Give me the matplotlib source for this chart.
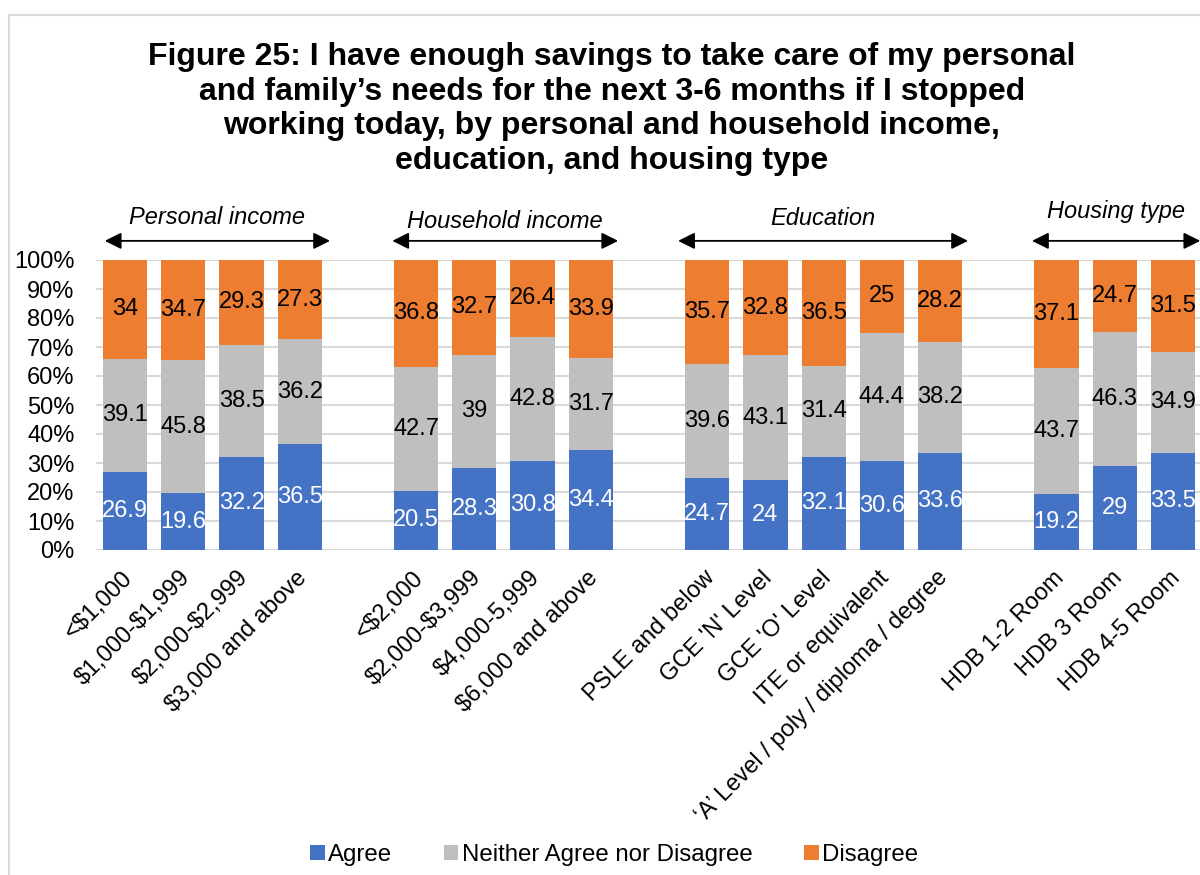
import numpy as np
import matplotlib
matplotlib.use("Agg")
import matplotlib.pyplot as plt
from matplotlib.patches import Rectangle
from matplotlib.transforms import ScaledTranslation

plt.rcParams['font.family'] = ['Liberation Sans', 'DejaVu Sans']

# Survey responses (%) by group
groups = ["Personal income", "Household income", "Education", "Housing type"]

personal_cats = ["<\\$1,000", "\\$1,000-\\$1,999", "\\$2,000-\\$2,999", "\\$3,000 and above"]
personal_agree = [26.9, 19.6, 32.2, 36.5]
personal_neither = [39.1, 45.8, 38.5, 36.2]
personal_disagree = [34, 34.7, 29.3, 27.3]

household_cats = ["<\\$2,000", "\\$2,000-\\$3,999", "\\$4,000-5,999", "\\$6,000 and above"]
household_agree = [20.5, 28.3, 30.8, 34.4]
household_neither = [42.7, 39, 42.8, 31.7]
household_disagree = [36.8, 32.7, 26.4, 33.9]

education_cats = ["PSLE and below", "GCE 'N' Level", "GCE 'O' Level",
                  "ITE or equivalent", "\u2018A\u2019 Level / poly / diploma / degree"]
education_agree = [24.7, 24, 32.1, 30.6, 33.6]
education_neither = [39.6, 43.1, 31.4, 44.4, 38.2]
education_disagree = [35.7, 32.8, 36.5, 25, 28.2]

housing_cats = ["HDB 1-2 Room", "HDB 3 Room", "HDB 4-5 Room"]
housing_agree = [19.2, 29, 33.5]
housing_neither = [43.7, 46.3, 34.9]
housing_disagree = [37.1, 24.7, 31.5]

series_names = ["Agree", "Neither Agree nor Disagree", "Disagree"]
colors = ["#4472C4", "#BFBFBF", "#ED7D31"]
text_colors = ["white", "black", "black"]

group_cats = [personal_cats, household_cats, education_cats, housing_cats]
group_vals = [
    [personal_agree, personal_neither, personal_disagree],
    [household_agree, household_neither, household_disagree],
    [education_agree, education_neither, education_disagree],
    [housing_agree, housing_neither, housing_disagree],
]

# lay groups out with one empty slot between them
positions, labels = [], []
values = [[], [], []]
pos = 0
for cats, vals in zip(group_cats, group_vals):
    for i, c in enumerate(cats):
        positions.append(pos)
        labels.append(c)
        for s in range(3):
            values[s].append(vals[s][i])
        pos += 1
    pos += 1
positions = np.array(positions)
values = [np.array(v) for v in values]

W, H = 1200, 875
fig = plt.figure(figsize=(W / 100, H / 100), dpi=100)
ax = fig.add_axes([96 / W, 1 - 550 / H, (1202 - 96) / W, 290 / H])

bottom = np.zeros(len(positions))
for s in range(3):
    ax.bar(positions, values[s], bottom=bottom, width=0.76, color=colors[s],
           label=series_names[s], zorder=2)
    for x, b, v in zip(positions, bottom, values[s]):
        ax.text(x, b + v / 2, f"{v:g}", ha="center", va="center",
                fontsize=17, color=text_colors[s], zorder=3)
    bottom += values[s]

ax.set_xlim(-0.5, 18.5)
ax.set_ylim(0, 100)
ax.set_yticks(np.arange(0, 101, 10))
ax.set_yticklabels([f"{t}%" for t in range(0, 101, 10)], fontsize=17)
ax.yaxis.grid(True, color="#D9D9D9", linewidth=1.5, zorder=0)
ax.set_axisbelow(True)
ax.set_xticks(positions)
ax.set_xticklabels(labels, rotation=45, ha="right", rotation_mode="anchor", fontsize=17)
ax.tick_params(axis="both", length=0)
ax.tick_params(axis="y", pad=15.5)
ax.tick_params(axis="x", pad=12)
shift = ScaledTranslation(-4 / 100, 0, fig.dpi_scale_trans)
for lbl in ax.get_xticklabels():
    lbl.set_transform(lbl.get_transform() + shift)
for sp in ax.spines.values():
    sp.set_visible(False)

# group brackets above the bars
arrow_ext = [(-0.35, 3.52), (4.59, 8.47), (9.5, 14.48), (15.58, 18.47)]
label_y = [114.5, 113.2, 114.3, 116.6]
for (x0, x1), name, ly in zip(arrow_ext, groups, label_y):
    ax.annotate("", xy=(x0, 106.6), xytext=(x1, 106.6),
                arrowprops=dict(arrowstyle="<|-|>", color="black", lw=1.3,
                                mutation_scale=25, shrinkA=0, shrinkB=0),
                annotation_clip=False)
    ax.text((x0 + x1) / 2, ly, name, ha="center", va="center", fontsize=17,
            style="italic", clip_on=False)

fig.text(0.51, 1 - 109 / H,
         "Figure 25: I have enough savings to take care of my personal\n"
         "and family\u2019s needs for the next 3-6 months if I stopped\n"
         "working today, by personal and household income,\n"
         "education, and housing type",
         ha="center", va="center", fontsize=23, fontweight="bold", linespacing=1.2)

fig.legend(loc="center", bbox_to_anchor=(0.512, 1 - 855 / H), ncol=3, frameon=False,
           fontsize=17.3, handlelength=0.6, handleheight=0.6, handletextpad=0.15,
           columnspacing=2.15)

fig.patches.append(Rectangle((9 / W, -0.1), 1.2, 1.1 - 15 / H, transform=fig.transFigure,
                             fill=False, edgecolor="#D9D9D9", linewidth=1.5))

fig.savefig("out.png", dpi=100)
